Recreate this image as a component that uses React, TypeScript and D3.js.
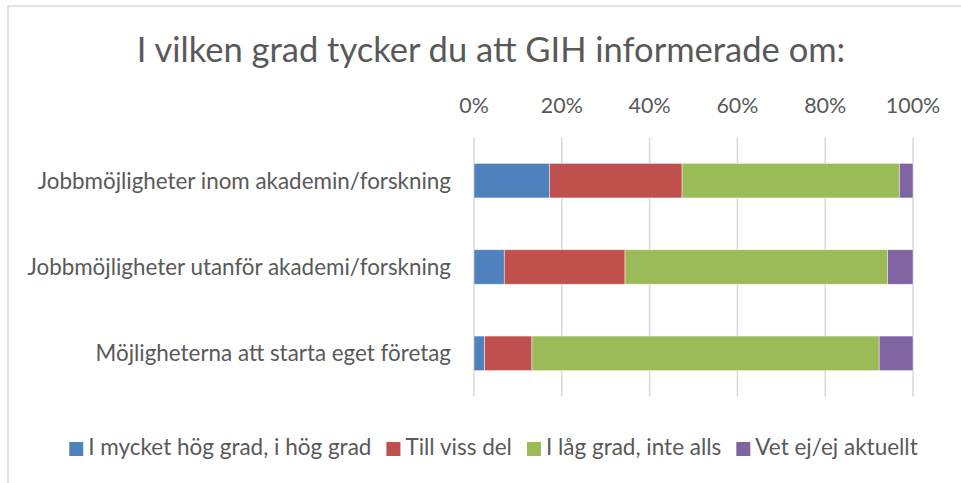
import React, { useEffect, useRef } from "react";
import * as d3 from "d3";

const title = "I vilken grad tycker du att GIH informerade om:";
const categories = [
  "Jobbmöjligheter inom akademin/forskning",
  "Jobbmöjligheter utanför akademi/forskning",
  "Möjligheterna att starta eget företag",
];
const seriesNames = [
  "I mycket hög grad, i hög grad",
  "Till viss del",
  "I låg grad, inte alls",
  "Vet ej/ej aktuellt",
];
const hogGrad = [17.2, 6.9, 2.4];
const vissDel = [30.2, 27.5, 10.8];
const lagGrad = [49.5, 59.8, 79.1];
const vetEj = [3.1, 5.8, 7.7];
const tickValues = [0, 20, 40, 60, 80, 100];
const colors = ["#4F81BD", "#C0504D", "#9BBB59", "#8064A2"];

const FONT = "Lato, 'Open Sans', sans-serif";
const TEXT = "#595959";

const App = () => {
  const svgRef = useRef<SVGSVGElement>(null);

  useEffect(() => {
    const width = 961;
    const height = 483;
    const svg = d3.select(svgRef.current);
    svg.selectAll("*").remove();

    // chart frame (light border, top and left visible)
    svg
      .append("rect")
      .attr("x", 8)
      .attr("y", 6)
      .attr("width", 980)
      .attr("height", 500)
      .attr("fill", "#fff")
      .attr("stroke", "#D9D9D9")
      .attr("stroke-width", 1.5);

    svg
      .append("text")
      .attr("x", 491)
      .attr("y", 62)
      .attr("text-anchor", "middle")
      .style("font-family", FONT)
      .style("font-size", "34.5px")
      .attr("fill", TEXT)
      .text(title);

    const x = d3.scaleLinear().domain([0, 100]).range([474, 913]);
    const y = d3
      .scaleBand()
      .domain(categories)
      .range([137.5, 396.5])
      .paddingInner(0.6)
      .paddingOuter(0.3);

    // gridlines
    svg
      .append("g")
      .selectAll("line")
      .data(tickValues)
      .enter()
      .append("line")
      .attr("x1", (d) => x(d))
      .attr("x2", (d) => x(d))
      .attr("y1", 137.5)
      .attr("y2", 396.5)
      .attr("stroke", "#D9D9D9")
      .attr("stroke-width", 1.5);

    // tick labels on top
    svg
      .append("g")
      .selectAll("text")
      .data(tickValues)
      .enter()
      .append("text")
      .attr("x", (d) => x(d))
      .attr("y", 113)
      .attr("text-anchor", "middle")
      .style("font-family", FONT)
      .style("font-size", "21.4px")
      .attr("fill", TEXT)
      .text((d) => d + "%");

    // category labels
    svg
      .append("g")
      .selectAll("text")
      .data(categories)
      .enter()
      .append("text")
      .attr("x", 451)
      .attr("y", (d) => y(d)! + y.bandwidth() / 2)
      .attr("dy", "0.35em")
      .attr("text-anchor", "end")
      .style("font-family", FONT)
      .style("font-size", "22.4px")
      .attr("fill", TEXT)
      .text((d) => d);

    // stacked bars
    const table = categories.map((c, i) => ({
      cat: c,
      s0: hogGrad[i],
      s1: vissDel[i],
      s2: lagGrad[i],
      s3: vetEj[i],
    }));
    const stack = d3.stack<any>().keys(["s0", "s1", "s2", "s3"])(table);

    svg
      .append("g")
      .selectAll("g")
      .data(stack)
      .enter()
      .append("g")
      .attr("fill", (_, i) => colors[i])
      .selectAll("rect")
      .data((d) => d)
      .enter()
      .append("rect")
      .attr("x", (d) => x(d[0]))
      .attr("width", (d) => x(d[1]) - x(d[0]))
      .attr("y", (d) => y(d.data.cat)!)
      .attr("height", y.bandwidth())
      .attr("stroke", "rgba(255,255,255,0.6)")
      .attr("stroke-width", 0.75);

    // legend, centered
    const legend = svg.append("g");
    const items = legend
      .selectAll("g")
      .data(seriesNames)
      .enter()
      .append("g");
    items
      .append("rect")
      .attr("width", 14)
      .attr("height", 14)
      .attr("y", 442)
      .attr("fill", (_, i) => colors[i]);
    const labels = items
      .append("text")
      .attr("x", 19)
      .attr("y", 455)
      .style("font-family", FONT)
      .style("font-size", "22.5px")
      .attr("fill", TEXT)
      .text((d) => d);

    const widths: number[] = [];
    labels.each(function () {
      widths.push((this as SVGTextElement).getComputedTextLength());
    });
    const gap = 15;
    const itemW = widths.map((w) => 19 + w);
    const total = d3.sum(itemW) + gap * (itemW.length - 1);
    let cx = 493.5 - total / 2;
    items.each(function (_, i) {
      d3.select(this).attr("transform", `translate(${cx},0)`);
      cx += itemW[i] + gap;
    });

    svg.attr("width", width).attr("height", height);
  }, []);

  return (
    <svg
      ref={svgRef}
      width={961}
      height={483}
      style={{ position: "absolute", left: 0, top: 0, background: "#fff" }}
    ></svg>
  );
};

export default App;
